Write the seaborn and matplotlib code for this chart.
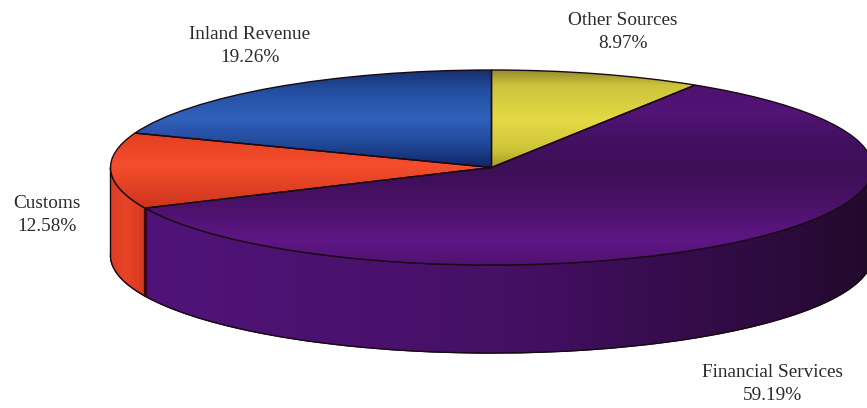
import numpy as np
import matplotlib
matplotlib.use("Agg")
import matplotlib.pyplot as plt
from matplotlib.patches import Polygon
import seaborn as sns

# --- data -------------------------------------------------------------
categories = ["Other Sources", "Financial Services", "Customs", "Inland Revenue"]
shares = [8.97, 59.19, 12.58, 19.26]
base_colors = ["#D8CE3C", "#5A1678", "#EE4A2A", "#2C5CB4"]

# --- styling ----------------------------------------------------------
W, H = 867, 408
CX, CY, RX, RY, DEPTH = 491.5, 167.5, 381.0, 97.5, 88.0

label_pos = [(623, 32), (773, 384), (47, 215), (250, 46)]

# vertical shading of the top face: (pixel y, rgb)
top_shade = {
    "Other Sources": ([70, 85, 120, 150, 168],
                      [(150, 140, 45), (205, 195, 60), (228, 218, 70), (205, 195, 55), (160, 150, 40)]),
    "Financial Services": ([88, 110, 140, 170, 200, 240, 265],
                           [(78, 18, 112), (82, 20, 118), (68, 16, 98), (60, 15, 86), (72, 17, 102), (94, 22, 132), (80, 18, 112)]),
    "Customs": ([130, 165, 208],
                [(225, 62, 32), (244, 78, 46), (205, 52, 28)]),
    "Inland Revenue": ([70, 90, 118, 145, 168],
                       [(22, 48, 112), (36, 78, 160), (48, 98, 188), (32, 70, 150), (14, 36, 98)]),
}
# horizontal shading of the side wall: (pixel x, rgb)
wall_shade = {
    "Financial Services": ([146, 300, 500, 650, 780, 867],
                           [(80, 20, 122), (76, 18, 112), (70, 16, 102), (56, 13, 80), (44, 11, 60), (34, 10, 44)]),
    "Customs": ([110, 125, 146], [(218, 62, 36), (232, 68, 40), (212, 56, 32)]),
}

sns.set_theme(style="white")
plt.rcParams["font.family"] = ["Liberation Serif", "DejaVu Serif"]
palette = sns.color_palette(base_colors)

fig = plt.figure(figsize=(W / 100, H / 100), dpi=100)
ax = fig.add_axes([0, 0, 1, 1])
EDGE = "#1a0a14"

depth_u = DEPTH / RY
xlim = ((0 - CX) / RX, (W - CX) / RX)
ylim = ((CY - H) / RY, CY / RY)
extent = (xlim[0], xlim[1], ylim[0], ylim[1])

# bottom disc, through the pie itself
ax.pie(shares, colors=palette, startangle=90, counterclock=False, radius=1,
       center=(0, -depth_u), wedgeprops=dict(linewidth=1.0, edgecolor=EDGE))
# top face
top, _ = ax.pie(shares, colors=palette, startangle=90, counterclock=False, radius=1,
                center=(0, 0), wedgeprops=dict(linewidth=0, zorder=3))

xpx = np.arange(W)
ypx = np.arange(H)

def grad_image(positions, colours, along):
    c = np.array(colours, float) / 255
    coords = xpx if along == "x" else ypx
    ch = np.stack([np.interp(coords, positions, c[:, k]) for k in range(3)], axis=-1)
    if along == "x":
        return np.repeat(ch[None, :, :], H, axis=0)
    return np.repeat(ch[:, None, :], W, axis=1)

# side walls
edges = 90 - 3.6 * np.cumsum([0] + shares)
for name, a0, a1 in zip(categories, edges[:-1], edges[1:]):
    lo, hi = max(a1, -180), min(a0, 0)
    if lo >= hi or name not in wall_shade:
        continue
    t = np.radians(np.linspace(hi, lo, 160))
    upper = np.column_stack([np.cos(t), np.sin(t)])
    lower = upper[::-1] - [0, depth_u]
    wall = Polygon(np.vstack([upper, lower]), closed=True, facecolor="none",
                   edgecolor=EDGE, linewidth=1.0, zorder=2.5)
    ax.add_patch(wall)
    img = ax.imshow(grad_image(*wall_shade[name], "x"), extent=extent, origin="upper",
                    aspect="auto", zorder=2, interpolation="bilinear")
    img.set_clip_path(wall)

# heavier seam between the Financial Services and Customs walls
seam = np.radians(edges[2])
ax.plot([np.cos(seam)] * 2, [np.sin(seam), np.sin(seam) - depth_u],
        color="#3a0a10", linewidth=2.4, zorder=2.6, solid_capstyle="butt")

# shading of the top face, clipped to each wedge
for name, wedge in zip(categories, top):
    pos, col = top_shade[name]
    img = ax.imshow(grad_image(pos, col, "y"), extent=extent, origin="upper",
                    aspect="auto", zorder=3.5, interpolation="bilinear")
    img.set_clip_path(wedge)

# wedge outlines on top
ax.pie(shares, colors=["none"] * len(shares), startangle=90, counterclock=False, radius=1,
       center=(0, 0), wedgeprops=dict(linewidth=1.0, edgecolor=EDGE, zorder=4))

ax.set_aspect("auto")
ax.set_xlim(xlim)
ax.set_ylim(ylim)
ax.axis("off")

for name, share, (lx, ly) in zip(categories, shares, label_pos):
    fig.text(lx / W, 1 - ly / H, f"{name}\n{share:.2f}%", ha="center", va="center",
             fontsize=13.9, color="#2a2a2a", linespacing=1.42)

fig.savefig("out.png", dpi=100)
